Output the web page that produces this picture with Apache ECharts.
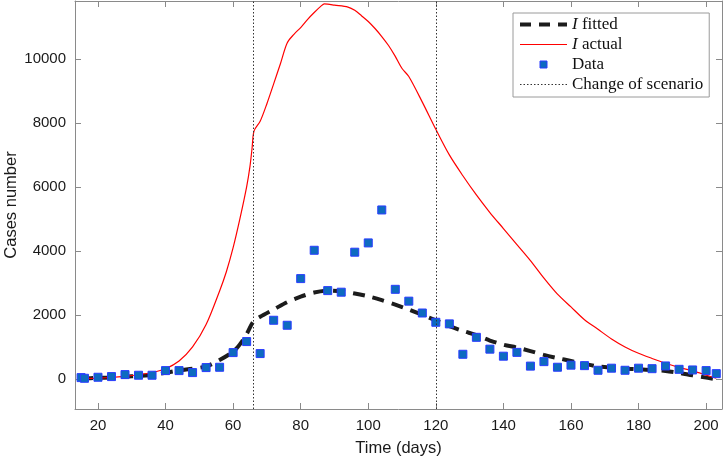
<!DOCTYPE html>
<html>
<head>
<meta charset="utf-8">
<script src="https://cdn.jsdelivr.net/npm/echarts@6/dist/echarts.min.js"></script>
<style>html,body{margin:0;padding:0;background:#fff}#c{width:723px;height:460px}</style>
</head>
<body>
<div id="c"></div>
<script>
// ---- data ----
const dataDays = [15,16,20,24,28,32,36,40,44,48,52,56,60,64,68,72,76,80,84,88,92,96,100,104,108,112,116,120,124,128,132,136,140,144,148,152,156,160,164,168,172,176,180,184,188,192,196,200,203];
const dataVals = [41,20,52,73,135,115,115,260,260,198,354,364,823,1167,792,1833,1677,3135,4020,2760,2710,3960,4250,5280,2800,2430,2060,1770,1720,770,1300,930,710,830,400,540,365,430,415,270,335,270,335,320,405,300,280,260,165];

const fitDays = [15,20,24,28,32,36,40,44,48,52,56,60,62,64,66,68,72,76,80,84,88,92,96,100,104,108,112,116,120,124,128,132,136,140,144,148,152,156,160,164,168,172,176,180,184,188,192,196,200,202];
const fitVals = [15,30,45,70,95,125,190,265,320,390,590,850,1080,1400,1790,1940,2170,2400,2570,2700,2760,2740,2670,2580,2460,2320,2170,2000,1830,1650,1500,1370,1200,1070,980,870,750,650,560,470,390,350,320,300,280,250,190,110,40,5];

const actDays = [15,20,24,28,32,36,40,44,48,52,56,58,60,62,64,65,65.6,66.2,68,70,72,74,76,78,80,82,84,86,87,88,90,94,96,98,100,102,104,106,108,110,112,116,120,124,128,132,136,140,144,148,152,156,160,164,168,172,176,180,184,188,192,196,200,203];
const actVals = [10,25,45,80,130,200,320,560,1000,1700,2750,3350,4100,5000,6000,6650,7200,7750,8050,8600,9220,9850,10500,10770,10980,11230,11450,11650,11720,11710,11680,11620,11520,11350,11170,10950,10700,10420,10080,9700,9450,8650,7800,7000,6350,5750,5200,4700,4200,3700,3150,2650,2250,1850,1550,1250,1000,800,640,490,360,250,120,20];

const changeDays = [66, 120];

const xTicks = [20,40,60,80,100,120,140,160,180,200];
const yTicks = [0,2000,4000,6000,8000,10000];
const xMin = 13.2, xMax = 204.7;
const yMin = -940, yMax = 11810;

// ---- chart ----
const chart = echarts.init(document.getElementById('c'), null, {renderer:'canvas'});
const zip = (a,b) => a.map((v,i)=>[v,b[i]]);
const axisGrey = '#8a8a8a';
const sans = 'Liberation Sans';
const serif = 'Liberation Serif';
const clear = 'rgba(0,0,0,0)';

function xAx(pos, show) {
  return {
    type:'value', position:pos, min:xMin, max:xMax,
    name: show ? 'Time (days)' : '', nameLocation:'middle', nameGap:31, nameMoveOverlap:false,
    nameTextStyle:{fontFamily:sans, fontSize:16.5, color:'#1a1a1a'},
    axisLine:{show:true, onZero:false, lineStyle:{color:axisGrey, width:1}},
    axisTick:{show:true, inside:true, length:6, customValues:xTicks, lineStyle:{color:axisGrey}},
    axisLabel:{show:show, customValues:xTicks, margin:9, fontFamily:sans, fontSize:15, color:'#1a1a1a',
      formatter: v => String(v)},
    splitLine:{show:false}
  };
}
function yAx(pos, show) {
  return {
    type:'value', position:pos, min:yMin, max:yMax,
    name: show ? 'Cases number' : '', nameLocation:'middle', nameGap:55, nameRotate:90, nameMoveOverlap:false,
    nameTextStyle:{fontFamily:sans, fontSize:16.5, color:'#1a1a1a'},
    axisLine:{show:true, onZero:false, lineStyle:{color:axisGrey, width:1}},
    axisTick:{show:true, inside:true, length:6, customValues:yTicks, lineStyle:{color:axisGrey}},
    axisLabel:{show:show, customValues:yTicks, margin:9, fontFamily:sans, fontSize:15, color:'#1a1a1a',
      formatter: v => String(v)},
    splitLine:{show:false}
  };
}

const option = {
  animation:false,
  backgroundColor:'#fff',
  grid:{left:75, right:1, top:1, bottom:51, containLabel:false, outerBoundsMode:'none'},
  xAxis:[xAx('bottom', true), xAx('top', false)],
  yAxis:[yAx('left', true), yAx('right', false)],
  legend:{
    orient:'vertical', left:513, top:13, align:'left',
    padding:[3,6,4,5], itemGap:3, itemWidth:47, itemHeight:7, itemTextGap:7,
    symbolKeepAspect:true,
    borderColor:'#9a9a9a', borderWidth:1, backgroundColor:'#fff',
    data:[
      {name:'I fitted', itemStyle:{color:clear, borderWidth:0, opacity:0},
        lineStyle:{color:'#1c1c1c', width:4, type:[11,8]}},
      {name:'I actual', itemStyle:{color:clear, borderWidth:0, opacity:0},
        lineStyle:{color:'#ff0000', width:1.2}},
      {name:'Data', icon:'path://M0,0M47,7M20,0h7v7h-7z',
        itemStyle:{color:'#0d6bc0', borderColor:'#2a3cff', borderWidth:1, opacity:1}},
      {name:'Change of scenario', itemStyle:{color:clear, borderWidth:0, opacity:0},
        lineStyle:{color:'#333', width:1, type:[1.5,2]}}
    ],
    formatter: n => n.startsWith('I ') ? '{i|I}' + n.slice(1) : n,
    textStyle:{fontFamily:serif, fontSize:17, color:'#111', lineHeight:16,
      rich:{i:{fontFamily:serif, fontStyle:'italic', fontSize:17, color:'#111', lineHeight:16}}}
  },
  series:[
    {name:'I fitted', type:'line', data:zip(fitDays, fitVals), symbol:'none', smooth:0.3,
      lineStyle:{color:'#1c1c1c', width:4, type:[12,8]}, itemStyle:{color:clear}, z:2},
    {name:'I actual', type:'line', data:zip(actDays, actVals), symbol:'none', smooth:0.3,
      lineStyle:{color:'#ff0000', width:1.2}, itemStyle:{color:clear}, z:3},
    {name:'Data', type:'scatter', data:zip(dataDays, dataVals), symbol:'rect', symbolSize:8,
      itemStyle:{color:'#0d6bc0', borderColor:'#2a3cff', borderWidth:1, opacity:1}, z:4},
    {name:'Change of scenario', type:'line', data:[], symbol:'none',
      lineStyle:{color:'#333', width:1, type:[1.5,2]}, itemStyle:{color:clear}, z:5,
      markLine:{silent:true, symbol:['none','none'], label:{show:false},
        lineStyle:{color:'#333', width:1, type:[1.5,2]},
        data: changeDays.map(d=>({xAxis:d}))}}
  ]
};
chart.setOption(option);
</script>
</body>
</html>
